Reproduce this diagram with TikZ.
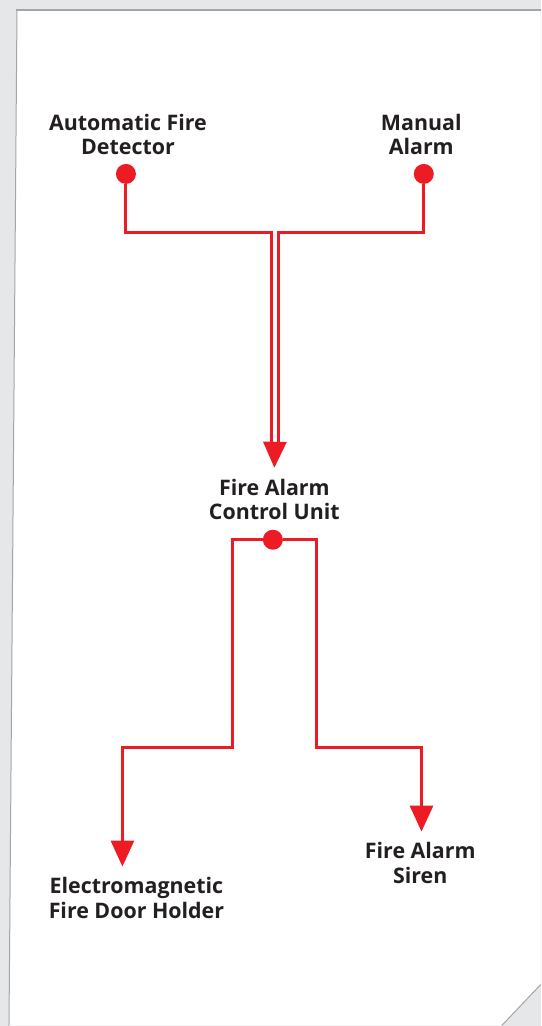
\documentclass[tikz,border=0pt]{standalone}
\usepackage{fontspec}
\setmainfont{Open Sans}
\usetikzlibrary{arrows.meta,positioning}
\definecolor{alarmred}{HTML}{ED1C24}
\definecolor{inkdark}{HTML}{231F20}
\definecolor{backgrey}{HTML}{E6E7E8}
\definecolor{edgegrey}{HTML}{A3A5A8}
\tikzset{
  devtext/.style={anchor=north, align=center, text=inkdark, inner sep=0pt, outer ysep=11pt,
                  font=\fontsize{21.4}{24.5}\selectfont\bfseries},
  endpoint/.style={circle, fill=alarmred, minimum size=20pt, inner sep=0pt},
  wire/.style={draw=alarmred, line width=3pt},
  wirearr/.style={wire, -{Triangle[length=26pt, width=23pt]}},
}

\begin{document}
\begin{tikzpicture}[x=1pt, y=-1pt]
  % sheet of paper
  \fill[backgrey] (0,0) rectangle (541,1026);
  \fill[white] (17,10) -- (541,10) -- (541,985) -- (502,1026) -- (9,1026) -- cycle;
  \draw[edgegrey, line width=1pt] (9,1026) -- (17,10);
  \draw[edgegrey, line width=2pt] (16.5,10) -- (541,10);
  \draw[edgegrey, line width=1pt] (502,1026) -- (541,985);

  % inputs
  \node[devtext] (det) at (128,103) {Automatic Fire\\Detector};
  \node[devtext] (man) at (421.5,103) {Manual\\Alarm};
  \node[endpoint] (detpt) at (126,174) {};
  \node[endpoint] (manpt) at (424,174) {};

  % control unit
  \node[devtext] (fac) at (274.5,468) {Fire Alarm\\Control Unit};
  \node[endpoint] (facpt) at (273,540) {};

  % outputs
  \node[devtext] (door) at (136.5,867) {Electromagnetic\\Fire Door Holder};
  \node[devtext] (siren) at (420.5,832) {Fire Alarm\\Siren};

  \coordinate (jl) at (271.5,233);
  \coordinate (jr) at (279,233);
  \coordinate (hub) at (275,444);
  \coordinate (sl) at (233,540);
  \coordinate (sr) at (316.5,540);
  \coordinate (dl) at (122.5,748);
  \coordinate (dr) at (421.7,748);

  \draw[wire] (detpt) |- (jl) -- (jl |- hub);
  \draw[wire] (manpt) |- (jr) -- (jr |- hub);
  \draw[wirearr] ([yshift=2pt]hub) -- (fac.north);

  \draw[wirearr] (facpt) -- (sl) |- (dl) -- (dl |- door.north);
  \draw[wirearr] (facpt) -- (sr) |- (dr) -- (dr |- siren.north);
\end{tikzpicture}
\end{document}
